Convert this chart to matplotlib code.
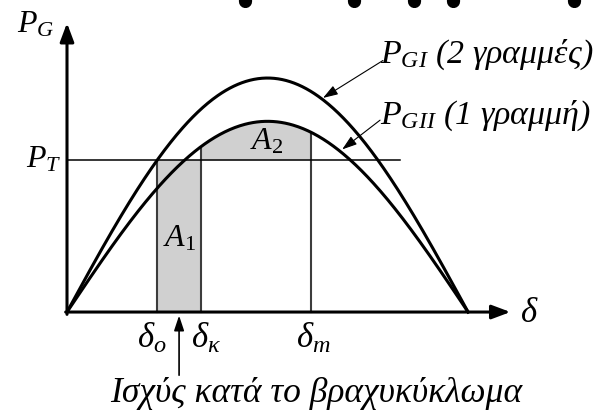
import numpy as np
import matplotlib
matplotlib.use("Agg")
import matplotlib.pyplot as plt

# Power-angle curves, equal area criterion
plt.rcParams['mathtext.fontset'] = 'custom'
plt.rcParams['mathtext.it'] = 'Liberation Serif:italic'
plt.rcParams['mathtext.rm'] = 'Liberation Serif'
plt.rcParams['mathtext.cal'] = 'Liberation Serif:italic'
plt.rcParams['font.family'] = 'Liberation Serif'

# Curve data (delta in degrees, P in p.u.)
delta = np.linspace(0, 180, 400)
Pmax_GI = 2.0      # two lines in service
Pmax_GII = 1.63    # one line in service
P_T = 1.30
delta_o = np.degrees(np.arcsin(P_T / Pmax_GI))
delta_k = 60.0
delta_m = 109.5

P_GI = Pmax_GI * np.sin(np.radians(delta))
P_GII = Pmax_GII * np.sin(np.radians(delta))

fig = plt.figure(figsize=(6.06, 4.13), dpi=100)
ax = fig.add_axes([0, 0, 1, 1])
ax.set_xlim(-30.07, 241.9)
ax.set_ylim(-0.863, 2.667)
ax.axis('off')

shade = '#d0d0d0'
edge = '#3c3c3c'

# A1: rectangle under P_T during the fault (P = 0)
ax.fill_between([delta_o, delta_k], 0, P_T, color=shade, lw=0, zorder=1)
# A2: between P_GII and P_T
d2 = np.linspace(delta_k, delta_m, 100)
ax.fill_between(d2, P_T, Pmax_GII * np.sin(np.radians(d2)), color=shade, lw=0, zorder=1)

# vertical boundaries
ax.plot([delta_o, delta_o], [0, P_T], color=edge, lw=1.5, zorder=2)
ax.plot([delta_k, delta_k], [0, Pmax_GII * np.sin(np.radians(delta_k))], color=edge, lw=1.5, zorder=2)
ax.plot([delta_m, delta_m], [0, Pmax_GII * np.sin(np.radians(delta_m))], color=edge, lw=1.5, zorder=2)

# P_T line
ax.plot([0, 149.5], [P_T, P_T], color='black', lw=1.1, zorder=3)

# curves
ax.plot(delta, P_GI, color='black', lw=2.2, zorder=4)
ax.plot(delta, P_GII, color='black', lw=2.2, zorder=4)

# axes with arrows
ax.annotate('', xy=(0, 2.47), xytext=(0, -0.02),
            arrowprops=dict(arrowstyle='-|>,head_length=0.8,head_width=0.3', lw=2.2,
                            color='black', mutation_scale=14, shrinkA=0, shrinkB=0), zorder=5)
ax.annotate('', xy=(199.0, 0), xytext=(-0.6, 0),
            arrowprops=dict(arrowstyle='-|>,head_length=0.8,head_width=0.3', lw=2.2,
                            color='black', mutation_scale=14, shrinkA=0, shrinkB=0), zorder=5)

# leader arrows to the curves
leader = dict(arrowstyle='-|>,head_length=0.9,head_width=0.3', lw=0.8, color='black',
              mutation_scale=10, shrinkA=0, shrinkB=0)
ax.annotate('', xy=(114.9, 1.83), xytext=(141.8, 2.15), arrowprops=leader, zorder=5)
ax.annotate('', xy=(123.5, 1.39), xytext=(140.5, 1.64), arrowprops=leader, zorder=5)

# short-circuit power arrow
ax.annotate('', xy=(50.3, -0.03), xytext=(50.3, -0.54),
            arrowprops=dict(arrowstyle='-|>,head_length=0.9,head_width=0.3', lw=1.2,
                            color='black', mutation_scale=10, shrinkA=0, shrinkB=0), zorder=5)

fs = 23
ax.text(-22.6, 2.385, '$P_G$', fontsize=fs, va='baseline', ha='left')
ax.text(-18.2, 1.239, '$P_T$', fontsize=fs, va='baseline', ha='left')
ax.text(140.5, 2.128, '$P_{GI}$ (2 γραμμές)', fontsize=24.5, style='italic', va='baseline', ha='left')
ax.text(140.5, 1.607, '$P_{GII}$ (1 γραμμή)', fontsize=24.5, style='italic', va='baseline', ha='left')
ax.text(82.1, 1.385, '$A_2$', fontsize=fs, va='baseline', ha='left')
ax.text(43.1, 0.556, '$A_1$', fontsize=fs, va='baseline', ha='left')
ax.text(203.3, -0.085, r'$\delta$', fontsize=25, va='baseline', ha='left')
ax.text(31.6, -0.308, r'$\delta_o$', fontsize=25, va='baseline', ha='left')
ax.text(55.8, -0.308, r'$\delta_\kappa$', fontsize=25, va='baseline', ha='left')
ax.text(102.9, -0.308, r'$\delta_m$', fontsize=25, va='baseline', ha='left')
ax.text(19.3, -0.77, 'Ισχύς κατά το βραχυκύκλωμα', fontsize=25.6, style='italic',
        va='baseline', ha='left')

# clipped marks along the top edge
for xm in [80.0, 128.8, 155.8, 173.3, 227.6]:
    ax.plot([xm, xm], [2.8, 2.66], color='black', lw=9.5, solid_capstyle='round', zorder=6)

fig.savefig('out.png', dpi=100)
